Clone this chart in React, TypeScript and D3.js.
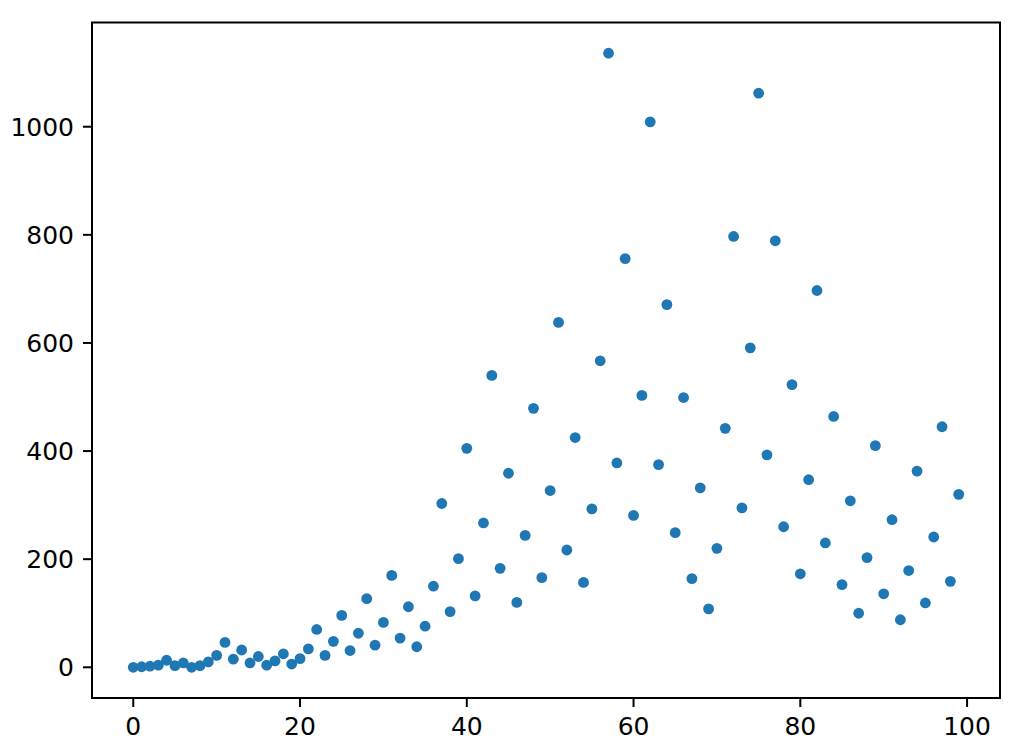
import React from "react";
import * as d3 from "d3";

const xValues: number[] = Array.from({ length: 100 }, (_, i) => i);
const yValues: number[] = [
  0, 1, 2, 4, 13, 3, 8, 0, 3, 10,
  22, 46, 15, 32, 8, 20, 4, 12, 25, 6,
  16, 34, 70, 22, 48, 96, 31, 63, 127, 41,
  83, 170, 54, 112, 38, 76, 150, 303, 103, 201,
  405, 132, 267, 540, 183, 359, 120, 244, 479, 166,
  327, 638, 217, 425, 157, 293, 567, 1136, 378, 756,
  281, 503, 1009, 375, 671, 249, 499, 164, 332, 108,
  220, 442, 797, 295, 591, 1062, 393, 789, 260, 523,
  173, 347, 697, 230, 464, 153, 308, 100, 203, 410,
  136, 273, 88, 179, 363, 119, 241, 445, 159, 320,
];
const xTicks: number[] = [0, 20, 40, 60, 80, 100];
const yTicks: number[] = [0, 200, 400, 600, 800, 1000];

const W = 1022;
const H = 752;
const L = 92;
const R = 1000;
const T = 22.5;
const B = 698;

export default function App() {
  const xMin = d3.min(xValues)!;
  const xMax = d3.max(xValues)!;
  const yMin = d3.min(yValues)!;
  const yMax = d3.max(yValues)!;
  const xm = (xMax - xMin) * 0.05;
  const ym = (yMax - yMin) * 0.05;
  const x = d3.scaleLinear().domain([xMin - xm, xMax + xm]).range([L, R]);
  const y = d3.scaleLinear().domain([yMin - ym, yMax + ym]).range([B, T]);
  const font = "'DejaVu Sans', sans-serif";
  const fs = 25;
  const tickLen = 9;
  return (
    <svg
      width={W}
      height={H}
      style={{ position: "absolute", left: 0, top: 0, background: "#fff" }}
    >
      <rect x={0} y={0} width={W} height={H} fill="#fff" />
      {xValues.map((xv, i) => (
        <circle key={i} cx={x(xv)} cy={y(yValues[i])} r={5.4} fill="#1f77b4" />
      ))}
      <rect
        x={L}
        y={T}
        width={R - L}
        height={B - T}
        fill="none"
        stroke="#000"
        strokeWidth={2}
      />
      {xTicks.map((t) => (
        <g key={"x" + t}>
          <line x1={x(t)} x2={x(t)} y1={B} y2={B + tickLen} stroke="#000" strokeWidth={2} />
          <text
            x={x(t)}
            y={B + tickLen + 9}
            dy="0.76em"
            textAnchor="middle"
            fontFamily={font}
            fontSize={fs}
            fill="#000"
          >
            {t}
          </text>
        </g>
      ))}
      {yTicks.map((t) => (
        <g key={"y" + t}>
          <line x1={L - tickLen} x2={L} y1={y(t)} y2={y(t)} stroke="#000" strokeWidth={2} />
          <text
            x={L - tickLen - 9}
            y={y(t)}
            dy="0.36em"
            textAnchor="end"
            fontFamily={font}
            fontSize={fs}
            fill="#000"
          >
            {t}
          </text>
        </g>
      ))}
    </svg>
  );
}
